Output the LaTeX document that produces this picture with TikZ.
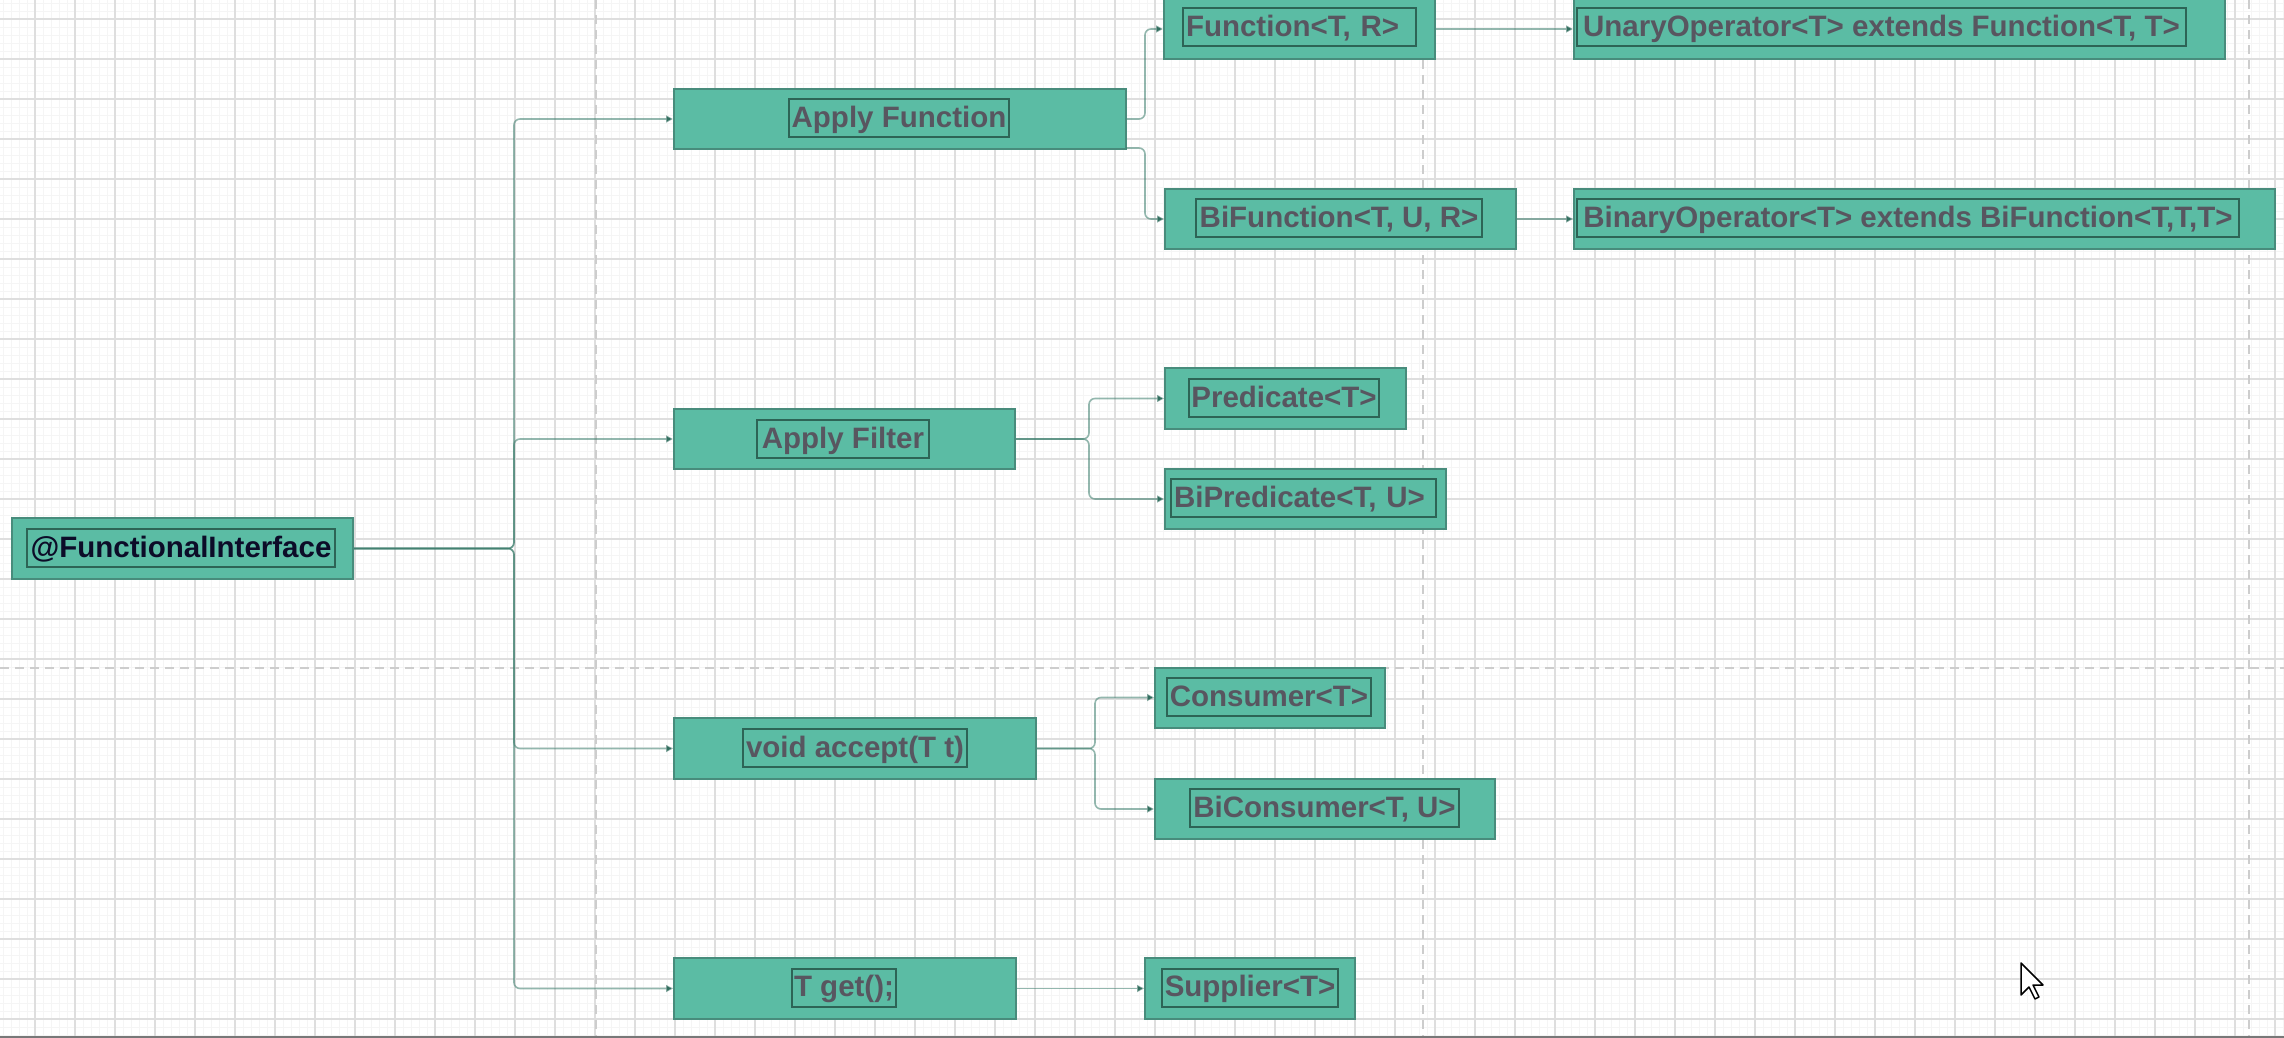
\documentclass[tikz,border=0pt]{standalone}
\usepackage{fontspec}
\setmainfont{Liberation Sans}
\usetikzlibrary{arrows.meta}
\definecolor{boxfill}{RGB}{91,188,164}
\definecolor{boxline}{RGB}{72,140,124}
\definecolor{lblline}{RGB}{45,100,86}
\definecolor{txt}{RGB}{88,86,96}
\definecolor{roottxt}{RGB}{12,12,40}
\definecolor{edgec}{RGB}{60,125,108}
\definecolor{tipc}{RGB}{50,110,95}
\definecolor{minorg}{RGB}{245,245,245}
\definecolor{majorg}{RGB}{222,222,222}
\definecolor{pageln}{RGB}{205,205,205}
\definecolor{frameln}{RGB}{120,120,120}
\begin{document}
\begin{tikzpicture}[x=1pt,y=-1pt,
  box/.style={draw=boxline, fill=boxfill, line width=2pt, inner sep=0pt},
  lbl/.style={draw=lblline, line width=2pt, inner xsep=0pt, inner ysep=0pt, minimum height=38pt,
    text height=26.5pt, text depth=8pt,
    font=\fontsize{29.5}{32}\selectfont\bfseries, text=txt},
  lleft/.style={inner xsep=3pt, text width=#1, align=left},
  edge/.style={draw=edgec, draw opacity=0.55, line width=1.6pt, rounded corners=6pt,
    -{Triangle[length=7pt,width=7pt,color=tipc,fill=tipc]}},
  minorline/.style={draw=minorg, line width=0.8pt},
  majorline/.style={draw=majorg, line width=1.4pt},
  pagebreak/.style={draw=pageln, line width=2.4pt, dash pattern=on 9pt off 6pt},
]
\useasboundingbox (0,0) rectangle (2284,1038);
\fill[white] (0,0) rectangle (2284,1038);
% grid
\foreach \x in {3,11,...,2283} \draw[minorline] (\x,0) -- (\x,1038);
\foreach \y in {3,11,...,1035} \draw[minorline] (0,\y) -- (2284,\y);
\foreach \x in {35,75,...,2283} \draw[majorline] (\x,0) -- (\x,1038);
\foreach \y in {19,59,...,1035} \draw[majorline] (0,\y) -- (2284,\y);
% page breaks
\draw[pagebreak] (596,0) -- (596,1038);
\draw[pagebreak] (1423,0) -- (1423,1038);
\draw[pagebreak] (2249,0) -- (2249,1038);
\draw[pagebreak] (0,668) -- (2284,668);
\draw[frameln, line width=2pt] (0,1037) -- (2284,1037);

% outer boxes
\node[box, minimum width=341pt, minimum height=61pt] (root) at (182.5,548.5) {};
\node[box, minimum width=452pt, minimum height=60pt] (af) at (900,119) {};
\node[box, minimum width=341pt, minimum height=60pt] (filt) at (844.5,439) {};
\node[box, minimum width=362pt, minimum height=61pt] (acc) at (855,748.5) {};
\node[box, minimum width=342pt, minimum height=61pt] (get) at (845,988.5) {};
\node[box, minimum width=271pt, minimum height=60pt] (fn) at (1299.5,29) {};
\node[box, minimum width=651pt, minimum height=60pt] (unary) at (1899.5,29) {};
\node[box, minimum width=351pt, minimum height=60pt] (bifn) at (1340.5,219) {};
\node[box, minimum width=701pt, minimum height=60pt] (binop) at (1924.5,219) {};
\node[box, minimum width=241pt, minimum height=61pt] (pred) at (1285.5,398.5) {};
\node[box, minimum width=281pt, minimum height=60pt] (bipred) at (1305.5,499) {};
\node[box, minimum width=230pt, minimum height=60pt] (cons) at (1270,697.5) {};
\node[box, minimum width=340pt, minimum height=60pt] (bicons) at (1325,809) {};
\node[box, minimum width=210pt, minimum height=61pt] (sup) at (1250,988.5) {};

% labels
\node[lbl, text=roottxt, minimum width=308pt] (root-l) at (181,548) {@FunctionalInterface};
\node[lbl, minimum width=220pt] (af-l) at (899,118) {Apply Function};
\node[lbl, minimum width=172pt] (filt-l) at (843,439) {Apply Filter};
\node[lbl, minimum width=224pt] (acc-l) at (855,748) {void accept(T t)};
\node[lbl, minimum width=104pt] (get-l) at (844,987.5) {T get();};
\node[lbl, lleft=227pt] (fn-l) at (1299.5,27.5) {Function<T, R>};
\node[lbl, minimum width=609pt] (unary-l) at (1881.5,27.5) {UnaryOperator<T> extends Function<T, T>};
\node[lbl, minimum width=286pt] (bifn-l) at (1339,218) {BiFunction<T, U, R>};
\node[lbl, minimum width=662pt] (binop-l) at (1908,218) {BinaryOperator<T> extends BiFunction<T,T,T>};
\node[lbl, minimum width=190pt] (pred-l) at (1284,398) {Predicate<T>};
\node[lbl, lleft=259pt] (bipred-l) at (1303.5,498) {BiPredicate<T, U>};
\node[lbl, minimum width=204pt] (cons-l) at (1269,697) {Consumer<T>};
\node[lbl, minimum width=269pt] (bicons-l) at (1324.5,808) {BiConsumer<T, U>};
\node[lbl, minimum width=176pt] (sup-l) at (1250,987.5) {Supplier<T>};

% junction coordinates
\coordinate (rj) at (514,548.5);
\coordinate (afj1) at (1145,119);
\coordinate (afs) at (1126,148);
\coordinate (afj2) at (1145,148);
\coordinate (fj) at (1089,439);
\coordinate (aj) at (1095,748.5);

% connectors
\draw[edge] (root.east) -- (rj) |- (af.west);
\draw[edge] (root.east) -- (rj) |- (filt.west);
\draw[edge] (root.east) -- (rj) |- (acc.west);
\draw[edge] (root.east) -- (rj) |- (get.west);
\draw[edge] (af.east) -- (afj1) |- (fn.west);
\draw[edge] (afs) -- (afj2) |- (bifn.west);
\draw[edge] (filt.east) -- (fj) |- (pred.west);
\draw[edge] (filt.east) -- (fj) |- (bipred.west);
\draw[edge] (acc.east) -- (aj) |- (cons.west);
\draw[edge] (acc.east) -- (aj) |- (bicons.west);
\draw[edge] (get.east) -- (sup.west);
\draw[edge] (fn.east) -- (unary.west);
\draw[edge] (bifn.east) -- (binop.west);

% mouse cursor
\draw[black, fill=white, line width=1.5pt, line join=round]
  (2021,963) -- ++(0,32) -- ++(8,-8) -- ++(6,12) -- ++(4,-2) -- ++(-6,-12) -- ++(10,0) -- cycle;
\end{tikzpicture}
\end{document}
